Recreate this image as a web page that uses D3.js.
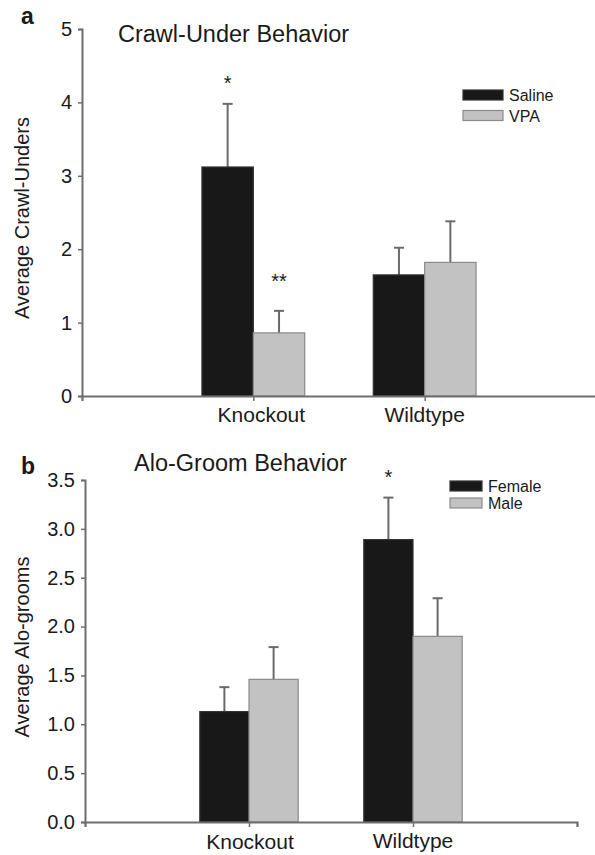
<!DOCTYPE html>
<html>
<head>
<meta charset="utf-8">
<script src="https://cdn.jsdelivr.net/npm/d3@7"></script>
<style>
    body { margin: 0; background: #fff; }
    text { font-family: "Liberation Sans", Arial, sans-serif; fill: #1a1a1a; }
</style>
</head>
<body>
<div id="chart"></div>
<script>
// Categories shared by both panels
const groups = ["Knockout", "Wildtype"];

// Panel a: crawl-unders
const crawlSeries = ["Saline", "VPA"];
const crawlMeans = [[3.12, 0.86], [1.65, 1.82]];
const crawlErrors = [[0.86, 0.30], [0.37, 0.56]];
const crawlStars = [["*", "**"], ["", ""]];
const crawlTicks = [0, 1, 2, 3, 4, 5];

// Panel b: alo-grooms
const groomSeries = ["Female", "Male"];
const groomMeans = [[1.13, 1.46], [2.89, 1.90]];
const groomErrors = [[0.25, 0.33], [0.43, 0.39]];
const groomStars = [["", ""], ["*", ""]];
const groomTicks = [0, 0.5, 1, 1.5, 2, 2.5, 3, 3.5];

// Colors
const colors = {
    dark: "#181818",
    light: "#c2c2c2",
    lightStroke: "#8a8a8a",
    axis: "#6e6e6e",
    err: "#6a6a6a"
};

const svg = d3.select("#chart").append("svg")
    .attr("width", 595)
    .attr("height", 855);

function drawPanel(p) {
    const g = svg.append("g");

    const x = d3.scaleLinear().domain([0, 3]).range([p.left, p.right]);
    const y = d3.scaleLinear().domain([0, p.ticks[p.ticks.length - 1]]).range([p.bottom, p.top]);
    const barW = (x(1) - x(0)) * 0.3;

    // bars, one group per category
    const rows = [];
    p.groups.forEach((grp, i) => {
        p.means[i].forEach((m, j) => {
            rows.push({ i, j, mean: m, err: p.errors[i][j], star: p.stars[i][j] });
        });
    });

    const barX = d => d.j === 0 ? x(d.i + 1) - barW : x(d.i + 1);

    // error bars (upper only), drawn below the bars
    const eb = g.append("g")
        .attr("stroke", colors.err)
        .attr("stroke-width", 2);
    eb.selectAll("line.stem")
        .data(rows)
        .join("line")
        .attr("class", "stem")
        .attr("x1", d => barX(d) + barW / 2)
        .attr("x2", d => barX(d) + barW / 2)
        .attr("y1", d => y(d.mean))
        .attr("y2", d => y(d.mean + d.err));
    eb.selectAll("line.cap")
        .data(rows)
        .join("line")
        .attr("class", "cap")
        .attr("x1", d => barX(d) + barW / 2 - 5)
        .attr("x2", d => barX(d) + barW / 2 + 5)
        .attr("y1", d => y(d.mean + d.err))
        .attr("y2", d => y(d.mean + d.err));

    g.append("g")
        .selectAll("rect")
        .data(rows)
        .join("rect")
        .attr("x", barX)
        .attr("width", barW)
        .attr("y", d => y(d.mean))
        .attr("height", d => y(0) - y(d.mean))
        .attr("fill", d => d.j === 0 ? colors.dark : colors.light)
        .attr("stroke", d => d.j === 0 ? "#333" : colors.lightStroke)
        .attr("stroke-width", 1.2);

    // significance stars (double stars sit a bit higher)
    g.append("g")
        .selectAll("text")
        .data(rows.filter(d => d.star))
        .join("text")
        .attr("x", d => barX(d) + barW / 2)
        .attr("y", d => y(d.mean + d.err) - 14 - 9 * (d.star.length - 1))
        .attr("text-anchor", "middle")
        .attr("font-size", 20)
        .text(d => d.star);

    // y axis
    const yAxis = g.append("g")
        .attr("transform", `translate(${p.left},0)`)
        .call(d3.axisLeft(y).tickValues(p.ticks).tickSize(4).tickPadding(6).tickFormat(p.fmt));
    // x axis
    const xAxis = g.append("g")
        .attr("transform", `translate(0,${p.bottom})`)
        .call(d3.axisBottom(x).tickValues([0, 1, 2, 3]).tickSize(5).tickFormat(""));

    [yAxis, xAxis].forEach(a => {
        a.select(".domain").attr("stroke", colors.axis).attr("stroke-width", 2);
        a.selectAll(".tick line").attr("stroke", colors.axis).attr("stroke-width", 1.5);
    });
    yAxis.selectAll(".tick text")
        .attr("font-size", 20)
        .attr("fill", "#1a1a1a");

    // category labels
    g.append("g")
        .selectAll("text")
        .data(p.groups)
        .join("text")
        .attr("x", (d, i) => x(i + 1) + p.labelDx[i])
        .attr("y", (d, i) => p.bottom + p.labelDy[i])
        .attr("text-anchor", "middle")
        .attr("font-size", 21)
        .text(d => d);

    // y label
    g.append("text")
        .attr("transform", `translate(${p.ylabelX},${p.ylabelY}) rotate(-90)`)
        .attr("text-anchor", "middle")
        .attr("font-size", 20)
        .text(p.ylabel);

    // title and panel letter
    g.append("text")
        .attr("x", p.titleX)
        .attr("y", p.titleY)
        .attr("font-size", 23.5)
        .text(p.title);
    g.append("text")
        .attr("x", 21)
        .attr("y", p.letterY)
        .attr("font-size", 23)
        .attr("font-weight", "bold")
        .text(p.letter);

    // legend
    const leg = g.append("g")
        .attr("transform", `translate(${p.legX},${p.legY})`);
    leg.selectAll("rect")
        .data(p.series)
        .join("rect")
        .attr("x", 0)
        .attr("y", (d, i) => i * p.legStep)
        .attr("width", p.legW)
        .attr("height", p.legH)
        .attr("fill", (d, i) => i === 0 ? colors.dark : colors.light)
        .attr("stroke", (d, i) => i === 0 ? "#333" : colors.lightStroke)
        .attr("stroke-width", 1.2);
    leg.selectAll("text")
        .data(p.series)
        .join("text")
        .attr("x", p.legW + 6)
        .attr("y", (d, i) => i * p.legStep + p.legH + 1)
        .attr("font-size", 16)
        .text(d => d);
}

drawPanel({
    groups, series: crawlSeries, means: crawlMeans, errors: crawlErrors, stars: crawlStars,
    ticks: crawlTicks, fmt: d3.format("d"),
    left: 82, right: 596, top: 29, bottom: 396,
    labelDx: [8, 0], labelDy: [26, 26],
    ylabel: "Average Crawl-Unders", ylabelX: 29, ylabelY: 218,
    title: "Crawl-Under Behavior", titleX: 118, titleY: 42,
    letter: "a", letterY: 24,
    legX: 463, legY: 90, legW: 40, legH: 10, legStep: 20.5
});

drawPanel({
    groups, series: groomSeries, means: groomMeans, errors: groomErrors, stars: groomStars,
    ticks: groomTicks, fmt: d3.format(".1f"),
    left: 85, right: 577, top: 480, bottom: 822,
    labelDx: [1, 0], labelDy: [27, 26],
    ylabel: "Average Alo-grooms", ylabelX: 29, ylabelY: 647,
    title: "Alo-Groom Behavior", titleX: 134, titleY: 471,
    letter: "b", letterY: 474,
    legX: 450, legY: 481, legW: 32, legH: 10, legStep: 17
});
</script>
</body>
</html>
